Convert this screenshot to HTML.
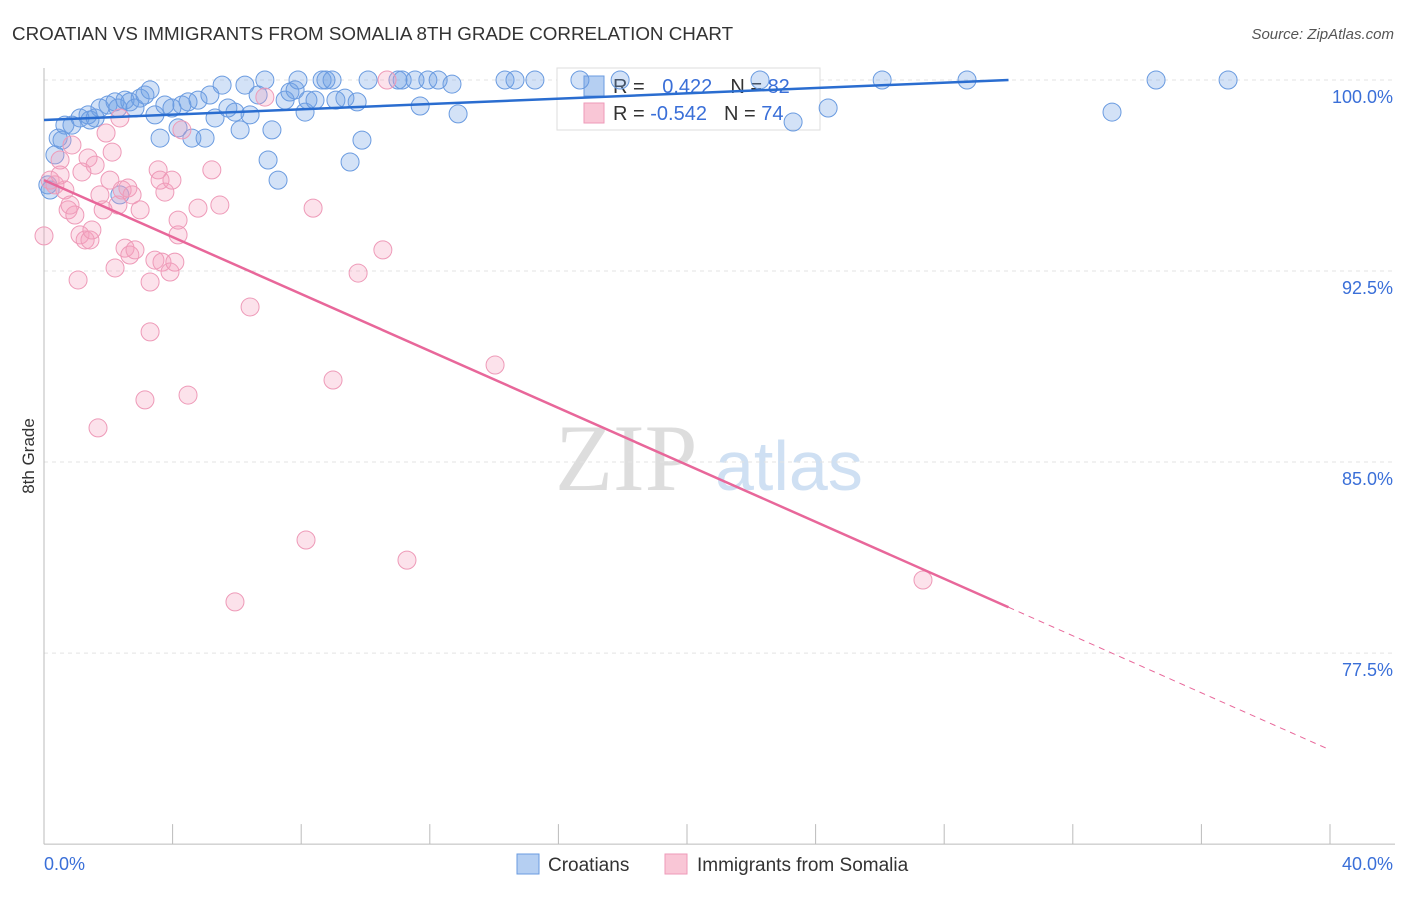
<!DOCTYPE html>
<html><head><meta charset="utf-8"><style>
body{margin:0;background:#fff;font-family:"Liberation Sans",sans-serif}
</style></head><body>
<svg id="c" width="1406" height="892" xmlns="http://www.w3.org/2000/svg" style="font-family:'Liberation Sans',sans-serif">
<text x="12" y="40" font-size="18.8" fill="#333">CROATIAN VS IMMIGRANTS FROM SOMALIA 8TH GRADE CORRELATION CHART</text>
<text x="1394" y="39" font-size="15" fill="#555" font-style="italic" text-anchor="end">Source: ZipAtlas.com</text>
<text x="555" y="490" font-size="95" fill="#ddd" font-family="Liberation Serif">ZIP</text>
<text x="715" y="490" font-size="70" fill="#cfe0f3">atlas</text>
<g id="grid"></g><g id="axes"></g>
<g>
<rect x="557" y="68" width="263" height="62" fill="#fff" stroke="#ddd"/>
<rect x="584" y="76" width="20" height="20" fill="#b5cff2" stroke="#6a9be0"/>
<rect x="584" y="103" width="20" height="20" fill="#f9c6d6" stroke="#ee9ab8"/>
<text x="613" y="93" font-size="20" fill="#333">R = <tspan fill="#3a6fd8" dx="12">0.422</tspan><tspan dx="18" fill="#333">N = </tspan><tspan fill="#3a6fd8">82</tspan></text>
<text x="613" y="120" font-size="20" fill="#333">R = <tspan fill="#3a6fd8">-0.542</tspan><tspan dx="17" fill="#333">N = </tspan><tspan fill="#3a6fd8">74</tspan></text>
</g>
<g id="pts"></g><g id="trend"></g>
<text transform="translate(34,456) rotate(-90)" font-size="17" fill="#333" text-anchor="middle">8th Grade</text>
<g>
<rect x="517" y="854" width="22" height="20" fill="#b5cff2" stroke="#6a9be0"/>
<text x="548" y="871" font-size="19" fill="#333">Croatians</text>
<rect x="665" y="854" width="22" height="20" fill="#f9c6d6" stroke="#ee9ab8"/>
<text x="697" y="871" font-size="19" fill="#333">Immigrants from Somalia</text>
</g>
</svg>
<script>
const yTicks=[100,92.5,85,77.5];
const yTickLabels=["100.0%","92.5%","85.0%","77.5%"];
const xTickLabels=["0.0%","40.0%"];
const blueX=[0.19,0.34,0.44,0.65,0.87,1.12,1.37,1.59,1.74,1.99,2.21,2.30,2.52,2.67,2.83,2.99,3.14,3.30,3.45,3.61,3.76,3.98,4.17,4.29,4.48,4.60,4.79,5.01,5.16,5.32,5.54,5.72,5.94,6.10,6.25,6.41,6.66,6.87,6.97,7.09,7.28,7.50,7.65,7.81,7.90,8.12,8.21,8.43,8.65,8.77,8.96,9.08,9.36,9.52,9.74,9.89,10.08,11.01,11.14,11.54,11.70,11.94,12.26,12.69,12.88,14.34,14.65,15.27,16.67,17.92,22.27,23.30,24.39,26.07,28.71,33.22,34.59,36.83,0.12,0.56,2.36,1.43];
const blueY=[95.68,97.06,97.72,98.23,98.23,98.51,98.63,98.51,98.90,99.02,99.14,98.90,99.21,99.14,98.90,99.29,99.41,99.61,98.63,97.72,99.02,98.90,98.12,99.02,99.14,97.72,99.21,97.72,99.41,98.51,99.80,98.90,98.74,98.04,99.80,98.63,99.41,100,96.86,98.04,96.07,99.21,99.53,99.61,100,98.74,99.21,99.21,100,100,100,99.21,99.29,96.78,99.14,97.64,100,100,100,100,98.98,100,100,99.84,98.67,100,100,100,100,100,100,98.35,98.90,100,100,98.74,100,100,95.88,97.64,95.49,98.43];
const pinkX=[0,0.19,0.34,0.50,0.65,0.75,0.87,0.96,1.06,1.12,1.28,1.37,1.43,1.59,1.68,1.74,1.84,1.93,2.05,2.12,2.21,2.30,2.36,2.43,2.52,2.61,2.67,2.74,2.83,2.99,3.14,3.30,3.30,3.45,3.55,3.61,3.67,3.76,3.92,3.98,4.07,4.17,4.17,4.29,4.48,4.79,5.22,5.47,5.94,6.41,6.87,8.15,8.37,8.99,9.77,10.54,10.67,11.29,14.03,27.34,0.50,1.18,1.49,0.81];
const pinkY=[93.88,96.07,95.88,96.86,95.68,94.90,97.45,94.70,92.15,93.92,93.72,96.94,93.72,96.66,86.34,95.49,94.90,97.92,96.07,97.17,92.62,95.09,98.51,95.68,93.40,95.76,93.13,95.49,93.33,94.90,87.44,92.07,90.11,92.93,96.47,96.07,92.85,95.60,92.46,96.07,92.85,93.92,94.50,98.04,87.63,94.97,96.47,95.09,79.51,91.09,99.33,81.94,94.97,88.22,92.42,93.33,100,81.15,88.81,80.37,96.27,96.39,94.11,95.09];
const blueTrend=[[0,98.43],[30,100]];
const pinkTrend=[[0,96.07],[30,79.3],[40,73.7]];
const X=v=>44+v*32.15, Y=v=>80+(100-v)*25.47;
const NS="http://www.w3.org/2000/svg";
function mk(tag,attrs,parent){const e=document.createElementNS(NS,tag);for(const k in attrs)e.setAttribute(k,attrs[k]);document.getElementById(parent).appendChild(e);return e;}
yTicks.forEach((t,i)=>{
 const l=mk('line',{x1:44,x2:1395,y1:Y(t),y2:Y(t),stroke:'#e3e3e3','stroke-dasharray':'4,4'},'grid');
 
 
 const tx=mk('text',{x:1393,y:Y(t)+23,'font-size':18,fill:'#3a6fd8','text-anchor':'end'},'grid');
 tx.textContent=yTickLabels[i];
 
 
});
let a=mk('line',{x1:44,x2:44,y1:68,y2:Y(70),stroke:'#bbb'},'axes');


a=mk('line',{x1:44,x2:1395,y1:Y(70),y2:Y(70),stroke:'#bbb'},'axes');


for(let i=0;i<=10;i++){const t=mk('line',{x1:X(i*4),x2:X(i*4),y1:Y(70)-20,y2:Y(70),stroke:'#bbb'},'axes');
 
 }
[[0,'start',44],[40,'end',1393]].forEach((d,i)=>{const t=mk('text',{x:d[2],y:870,'font-size':18,fill:'#3a6fd8','text-anchor':d[1]},'axes');t.textContent=xTickLabels[i];
 
 });
blueX.forEach((x,i)=>{const c=mk('circle',{cx:X(x),cy:Y(blueY[i]),r:9,fill:'rgba(110,160,230,0.3)',stroke:'#6a9be0','stroke-width':1},'pts');
 
 });
pinkX.forEach((x,i)=>{const c=mk('circle',{cx:X(x),cy:Y(pinkY[i]),r:9,fill:'rgba(245,160,190,0.3)',stroke:'#ee9ab8','stroke-width':1},'pts');
 
 });
let l=mk('line',{x1:X(blueTrend[0][0]),y1:Y(blueTrend[0][1]),x2:X(blueTrend[1][0]),y2:Y(blueTrend[1][1]),stroke:'#2a6dd0','stroke-width':2.5},'trend');


l=mk('line',{x1:X(pinkTrend[0][0]),y1:Y(pinkTrend[0][1]),x2:X(pinkTrend[1][0]),y2:Y(pinkTrend[1][1]),stroke:'#e8679a','stroke-width':2.5},'trend');


l=mk('line',{x1:X(pinkTrend[1][0]),y1:Y(pinkTrend[1][1]),x2:X(pinkTrend[2][0]),y2:Y(pinkTrend[2][1]),stroke:'#e8679a','stroke-width':1,'stroke-dasharray':'6,5'},'trend');


</script>
</body></html>
